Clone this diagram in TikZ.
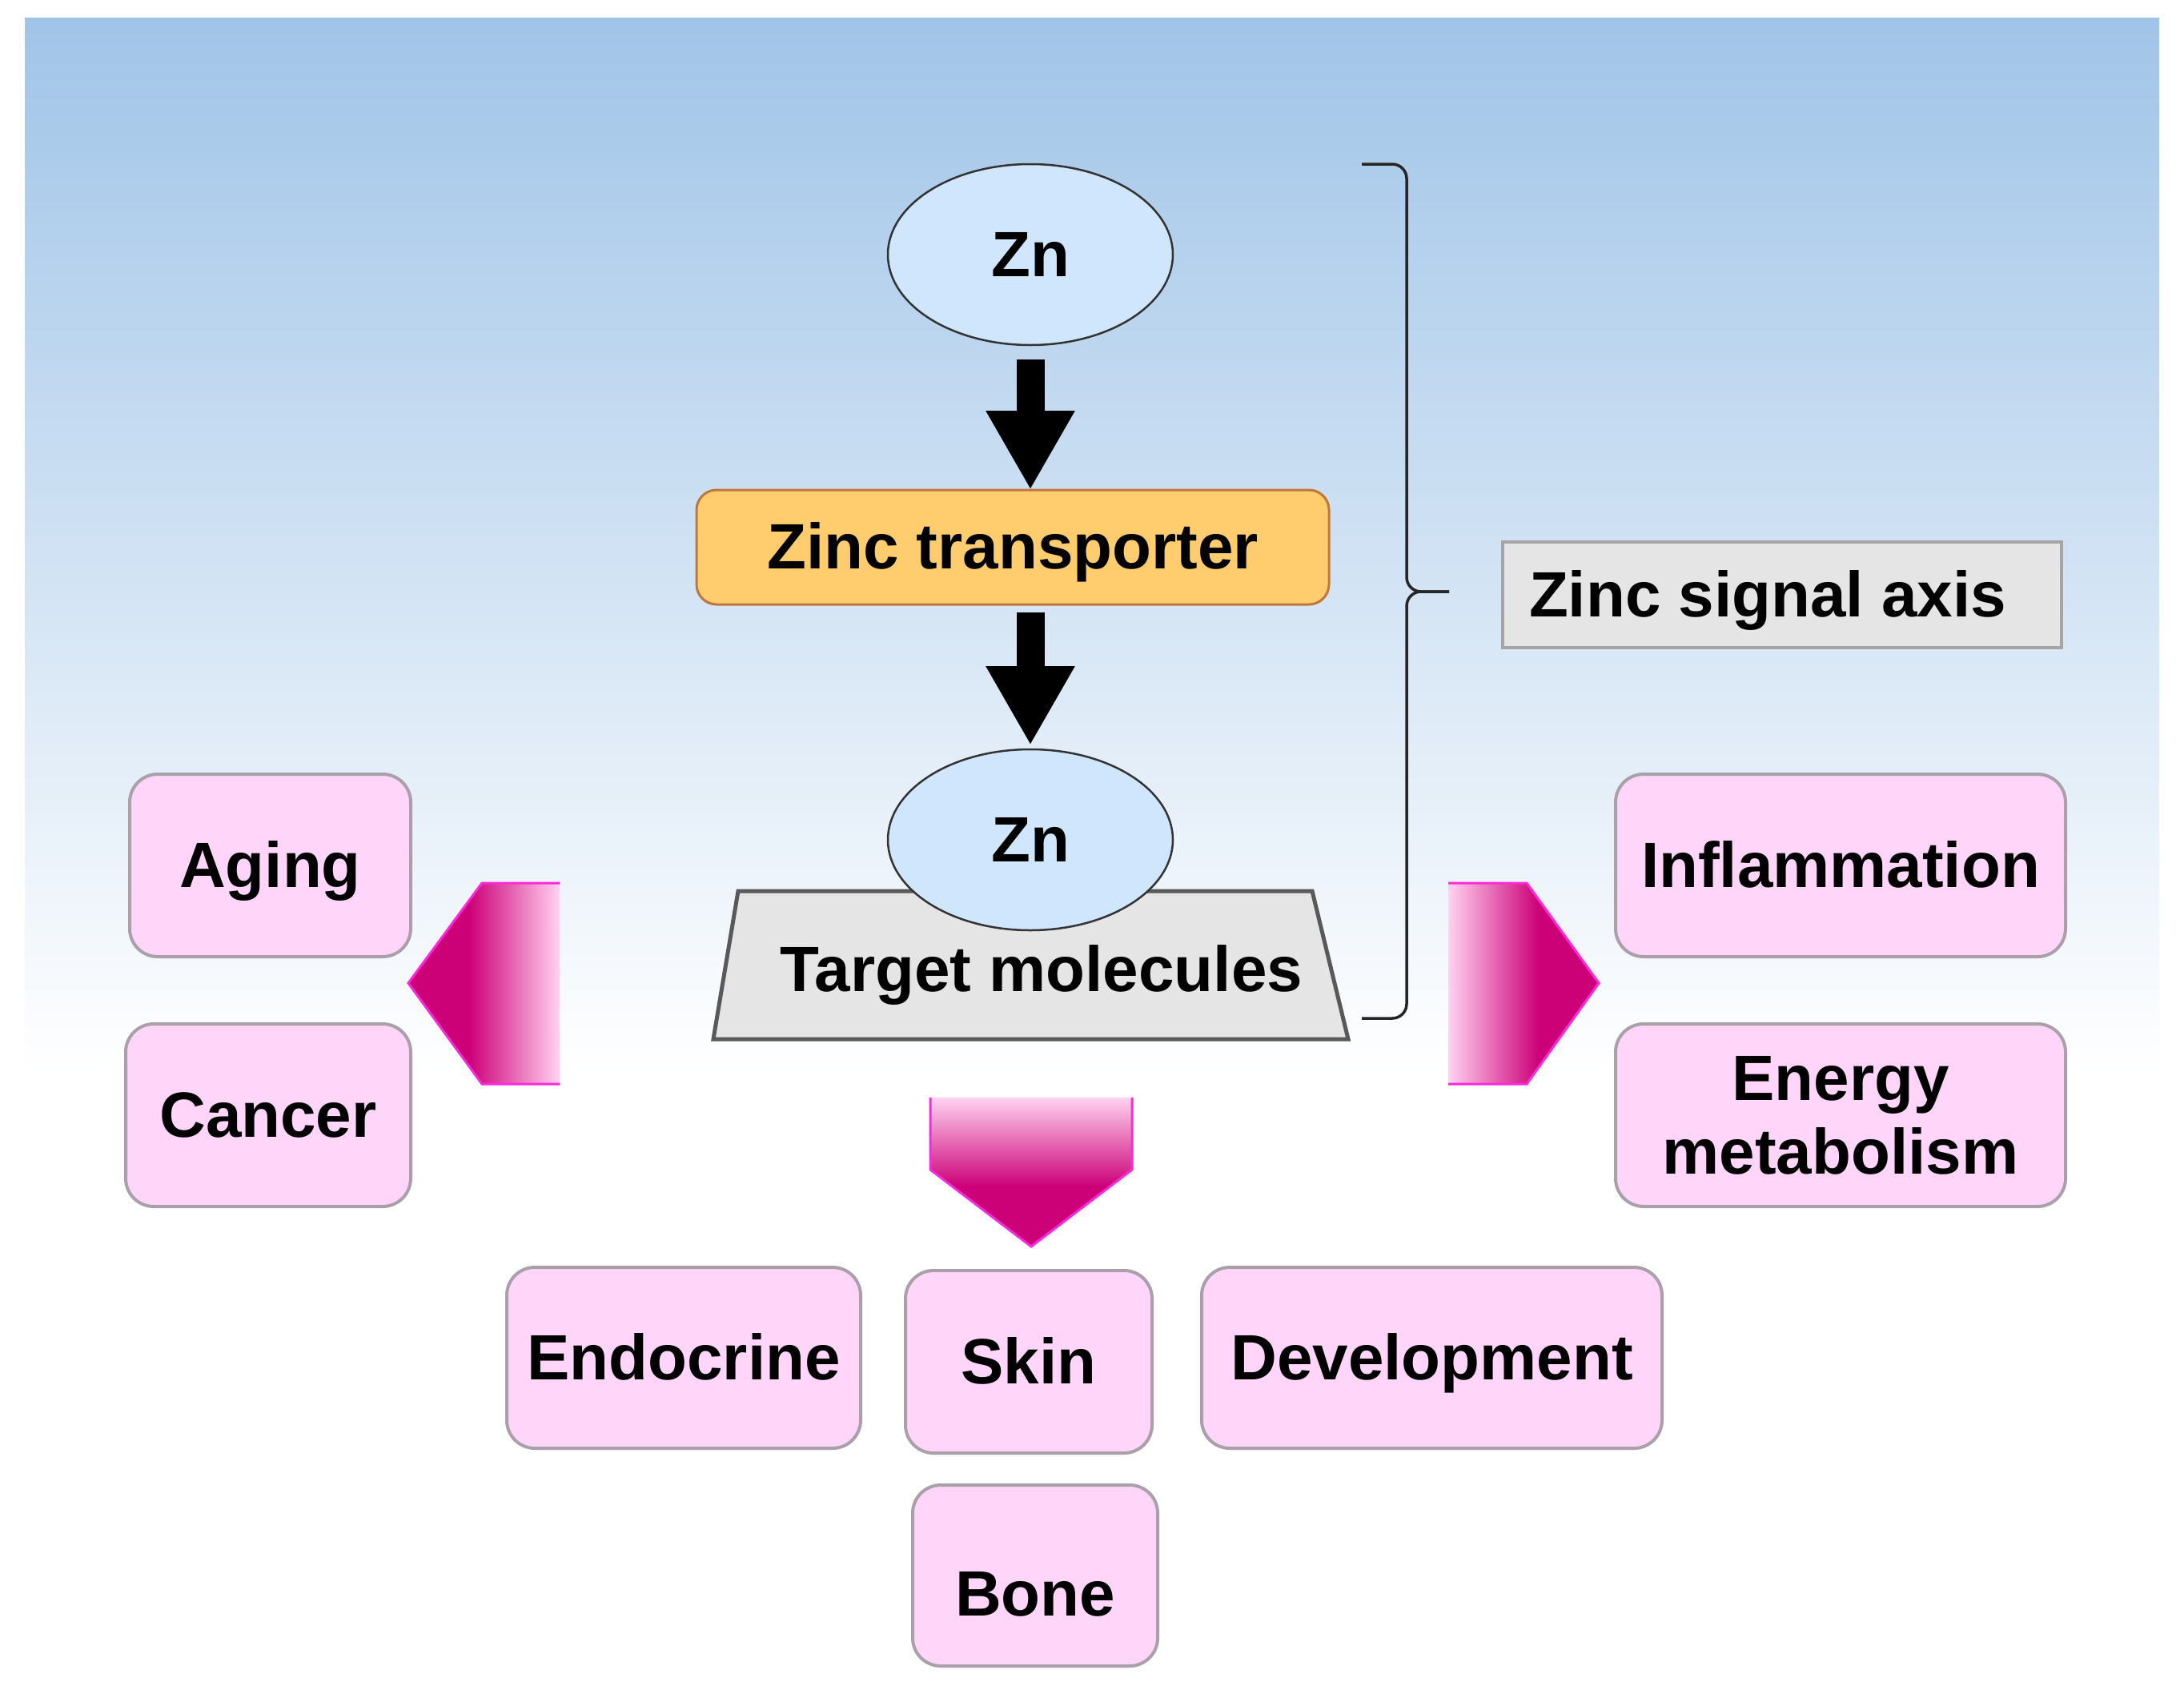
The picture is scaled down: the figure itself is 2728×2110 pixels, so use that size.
\documentclass[tikz,border=0pt]{standalone}
\usepackage{fontspec}
\setmainfont{Liberation Sans}
\usetikzlibrary{arrows.meta,shapes.geometric}
\definecolor{bgtop}{RGB}{160,196,232}
\definecolor{znfill}{RGB}{207,230,252}
\definecolor{transfill}{RGB}{255,204,110}
\definecolor{transline}{RGB}{190,120,60}
\definecolor{pinkfill}{RGB}{255,214,250}
\definecolor{pinkline}{RGB}{170,160,170}
\definecolor{grayfill}{RGB}{229,229,229}
\definecolor{axisline}{RGB}{165,165,165}
\definecolor{magdark}{RGB}{204,0,119}
\definecolor{maglight}{RGB}{255,210,240}
\definecolor{magedge}{RGB}{255,40,220}
\pgfdeclarehorizontalshading{magleft}{100bp}{color(0bp)=(magdark); color(25bp)=(magdark); color(45bp)=(magdark); color(75bp)=(maglight); color(100bp)=(maglight)}
\pgfdeclarehorizontalshading{magright}{100bp}{color(0bp)=(maglight); color(25bp)=(maglight); color(55bp)=(magdark); color(75bp)=(magdark); color(100bp)=(magdark)}
\pgfdeclareverticalshading{magdown}{100bp}{color(0bp)=(magdark); color(25bp)=(magdark); color(45bp)=(magdark); color(75bp)=(maglight); color(100bp)=(maglight)}
\begin{document}
\begin{tikzpicture}[x=1pt,y=-1pt,
  every node/.style={font=\fontsize{80pt}{92pt}\selectfont\bfseries, outer sep=0pt, inner sep=0pt},
  oneline/.style={text height=60pt, text depth=6pt},
  zn/.style={ellipse, draw=black!80, line width=2.5pt, fill=znfill, minimum width=356pt, minimum height=226pt, oneline},
  pinkbox/.style={rectangle, rounded corners=35pt, draw=pinkline, line width=4pt, fill=pinkfill, align=center},
  blockarrow/.style={line width=35pt, -{Triangle[length=99pt,width=104pt]}},
  magedgeline/.style={draw=magedge, line width=3pt, line join=miter},
  braceline/.style={draw=black!85, line width=3.5pt, rounded corners=18pt}
]
\useasboundingbox (0,0) rectangle (2728,2110);
\shade[top color=bgtop, bottom color=white] (31,22) rectangle (2697,1340);

% brace
\draw[braceline] (1701,205) -- (1757,205) -- (1757,739) -- (1810,739);
\draw[braceline] (1810,739) -- (1757,739) -- (1757,1272) -- (1701,1272);

% central column
\node[zn] (zn1) at (1287,318) {Zn};
\node[rectangle, rounded corners=25pt, draw=transline, line width=3pt, fill=transfill,
      minimum width=790pt, minimum height=143pt, oneline] (trans) at (1265,683.5) {Zinc transporter};
\filldraw[fill=grayfill, draw=black!65, line width=5pt] (922,1113) -- (1639,1113) -- (1684,1298) -- (891,1298) -- cycle;
\node[zn] (zn2) at (1287,1049) {Zn};
\node[oneline] (target) at (1301,1211) {Target molecules};

\draw[blockarrow, shorten <=18pt] (zn1.south) -- (zn1.south |- trans.north);
\draw[blockarrow, shorten <=10pt, shorten >=5pt] (trans.south -| zn2.north) -- (zn2.north);

% axis label
\node[rectangle, draw=axisline, line width=4pt, fill=grayfill, minimum width=698pt, minimum height=132pt, oneline]
  (axis) at (2226,743) {\makebox[632pt][l]{Zinc signal axis}};

% magenta arrows
\shade[shading=magleft] (699,1103) -- (602,1103) -- (510,1228) -- (602,1354) -- (699,1354) -- cycle;
\draw[magedgeline] (699,1103) -- (602,1103) -- (510,1228) -- (602,1354) -- (699,1354);
\shade[shading=magright] (1809,1103) -- (1907,1103) -- (1997,1228) -- (1907,1354) -- (1809,1354) -- cycle;
\draw[magedgeline] (1809,1103) -- (1907,1103) -- (1997,1228) -- (1907,1354) -- (1809,1354);
\shade[shading=magdown] (1162,1371) -- (1414,1371) -- (1414,1461) -- (1288,1557) -- (1162,1461) -- cycle;
\draw[magedgeline] (1162,1371) -- (1162,1461) -- (1288,1557) -- (1414,1461) -- (1414,1371);

% outcome boxes
\node[pinkbox, oneline, minimum width=351pt, minimum height=228pt] (aging) at (337.5,1081) {Aging};
\node[pinkbox, oneline, minimum width=356pt, minimum height=228pt] (cancer) at (335,1393) {Cancer};
\node[pinkbox, oneline, minimum width=562pt, minimum height=228pt] (inflam) at (2299,1081) {Inflammation};
\node[pinkbox, minimum width=562pt, minimum height=228pt] (energy) at (2299,1393) {Energy\\metabolism};
\node[pinkbox, oneline, minimum width=442pt, minimum height=226pt] (endocrine) at (854,1696) {Endocrine};
\node[pinkbox, oneline, minimum width=308pt, minimum height=228pt] (skin) at (1285,1701) {Skin};
\node[pinkbox, oneline, minimum width=575pt, minimum height=226pt] (develop) at (1788.5,1696) {Development};
\node[pinkbox, text height=100pt, text depth=0pt, minimum width=306pt, minimum height=226pt] (bone) at (1293,1968) {Bone};
\end{tikzpicture}
\end{document}
